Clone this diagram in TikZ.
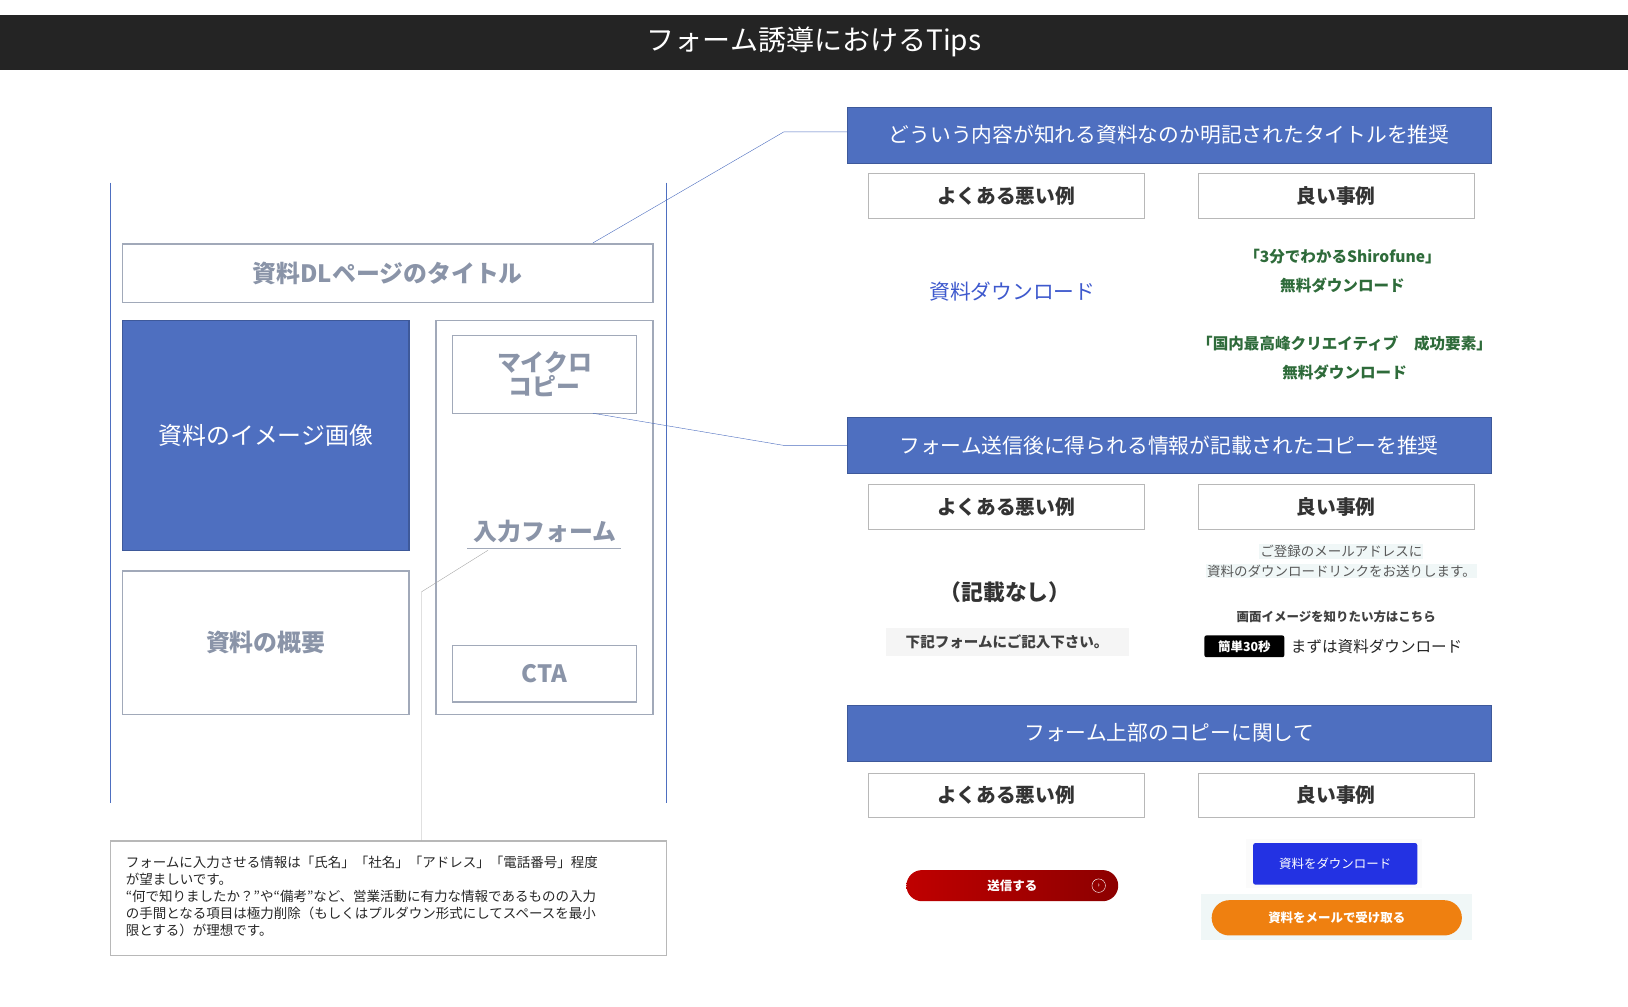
\documentclass[tikz,border=0pt]{standalone}
\usepackage{fontspec}
\setmainfont{Noto Sans CJK JP}
\usepackage{tikz}
\usetikzlibrary{positioning,calc}
\definecolor{hdblue}{HTML}{4E6FC0}
\definecolor{txgray}{HTML}{8A94A8}
\definecolor{bdgray}{HTML}{B8B8B8}
\definecolor{okgreen}{HTML}{2E6B3A}
\tikzset{
  sect/.style={draw=hdblue!80!black,fill=hdblue,text=white,minimum width=620pt,minimum height=54pt,font=\fontsize{20}{24}\selectfont,inner sep=0pt},
  sub/.style={draw=bdgray,minimum width=266pt,minimum height=43pt,font=\bfseries\fontsize{19}{22}\selectfont,text=black!80,inner sep=0pt},
  part/.style={draw=txgray!80,line width=1.2pt,text=txgray,font=\bfseries\fontsize{23}{27}\selectfont,inner sep=0pt,align=center},
  lead/.style={hdblue,thin},
}
\begin{document}
\begin{tikzpicture}[x=1pt,y=-1pt]
\useasboundingbox (0,0) rectangle (1568,969);
%title bar
\fill[black!86] (0,14) rectangle (1568,67);
\node[text=white,font=\fontsize{27}{30}\selectfont] (title) at (784,40) {フォーム誘導におけるTips};
%page mockup
\draw[hdblue] (106,176) -- (106,773);
\draw[hdblue] (642,176) -- (642,773);
\node[part,minimum width=511pt,minimum height=56pt] (pgtitle) at (373.5,263) {資料DLページのタイトル};
\node[part,draw=hdblue!80!black,fill=hdblue,text=white,font=\fontsize{23}{27}\selectfont,minimum width=276pt,minimum height=221pt] (image) at (256,419.5) {資料のイメージ画像};
\node[part,minimum width=276pt,minimum height=138pt] (summary) at (256,619) {資料の概要};
\node[part,minimum width=209pt,minimum height=379pt] (form) at (524.5,498.5) {};
\node[part,minimum width=177pt,minimum height=75pt,font=\bfseries\fontsize{23}{27}\selectfont] (micro) at (524.5,360.5) {マイクロ\\[-4pt]コピー};
\node[part,draw=none] (input) at (525,512) {入力フォーム};
\draw[txgray!80,line width=1pt] (450,528) -- (598,528);
\node[part,minimum width=177pt,minimum height=54pt] (cta) at (524.5,649) {CTA};
%note
\node[draw=bdgray,line width=1pt,minimum width=536pt,minimum height=110pt,inner sep=0pt] (note) at (374,865) {};
\node[anchor=north west,align=left,font=\fontsize{13}{16.5}\selectfont,text=black!85,inner sep=0pt] (notetx) at (121,824)
 {フォームに入力させる情報は「氏名」「社名」「アドレス」「電話番号」程度\\が望ましいです。\\“何で知りましたか？”や“備考”など、営業活動に有力な情報であるものの入力\\の手間となる項目は極力削除（もしくはプルダウン形式にしてスペースを最小\\限とする）が理想です。};
\coordinate (nbend) at (406,570);
\draw[gray!70] (470,530) -- (nbend) -- (nbend |- note.north);
%sections
\node[sect] (s1) at (1126,130) {どういう内容が知れる資料なのか明記されたタイトルを推奨};
\node[sect] (s2) at (1126,429) {フォーム送信後に得られる情報が記載されたコピーを推奨};
\node[sect] (s3) at (1126,706) {フォーム上部のコピーに関して};
\coordinate (k1) at (755,127);
\coordinate (k2) at (755,429);
\draw[lead] (571,234) -- (k1) -- (k1 -| s1.west);
\draw[lead] (571,398) -- (k2) -- (s2.west);
\foreach \s/\y in {1/188.5,2/488,3/766}{
  \node[sub] (bad\s) at (969,\y) {よくある悪い例};
  \node[sub] (good\s) at (1287,\y) {良い事例};
}
%section 1
\node[text=hdblue!80!blue,font=\fontsize{20}{24}\selectfont] (dl) at (975,281) {資料ダウンロード};
\node[text=okgreen,font=\bfseries\fontsize{15}{28}\selectfont,align=center] (ok1) at (1293,261) {「3分でわかるShirofune」\\無料ダウンロード};
\node[text=okgreen,font=\bfseries\fontsize{15}{28}\selectfont,align=center] (ok2) at (1295,345) {「国内最高峰クリエイティブ　成功要素」\\無料ダウンロード};
%section 2
\node[font=\bfseries\fontsize{21}{24}\selectfont,text=black!80] (none) at (968,570) {（記載なし）};
\node[fill=gray!8,minimum width=234pt,minimum height=27pt,inner sep=0pt,font=\bfseries\fontsize{14}{16}\selectfont,text=black!75] (fill) at (970,618.5) {下記フォームにご記入下さい。};
\node[fill=teal!6,inner sep=1pt,font=\fontsize{13}{15}\selectfont,text=black!65] (mail1) at (1292,531) {ご登録のメールアドレスに};
\node[fill=teal!6,inner sep=1pt,font=\fontsize{13}{15}\selectfont,text=black!65] (mail2) at (1292,550) {資料のダウンロードリンクをお送りします。};
\node[font=\bfseries\fontsize{12}{14}\selectfont,text=black!75] (scr) at (1287,594) {画面イメージを知りたい方はこちら};
\node[fill=black,rounded corners=2pt,text=white,font=\bfseries\fontsize{12}{14}\selectfont,minimum width=77pt,minimum height=21pt,inner sep=0pt] (quick) at (1198.5,622.5) {簡単30秒};
\node[right=6pt of quick,font=\fontsize{15}{18}\selectfont,text=black!85,inner sep=0pt] (first) {まずは資料ダウンロード};
%section 3
\node[left color=red!75!black,right color=red!55!black,rounded corners=15pt,minimum width=204pt,minimum height=30pt,inner sep=0pt,text=white,font=\bfseries\fontsize{12}{14}\selectfont] (send) at (975,853) {送信する};
\draw[white] ($(send.east)+(-19,0)$) circle (6.5pt);
\node[text=white,font=\fontsize{7}{8}\selectfont,inner sep=0pt] (arr) at ($(send.east)+(-19,0)$) {›};
\fill[gray!3] (1200,808) rectangle (1370,855);
\node[fill=blue!55!hdblue,rounded corners=2pt,minimum width=158pt,minimum height=40pt,inner sep=0pt,text=white,font=\fontsize{12}{14}\selectfont] (dlbtn) at (1286,832) {資料をダウンロード};
\fill[teal!6] (1157,861) rectangle (1418,905);
\node[fill=orange!75!brown,rounded corners=17pt,minimum width=241pt,minimum height=34pt,inner sep=0pt,text=white,font=\bfseries\fontsize{12}{14}\selectfont] (mailbtn) at (1287.5,884) {資料をメールで受け取る};
\end{tikzpicture}
\end{document}
